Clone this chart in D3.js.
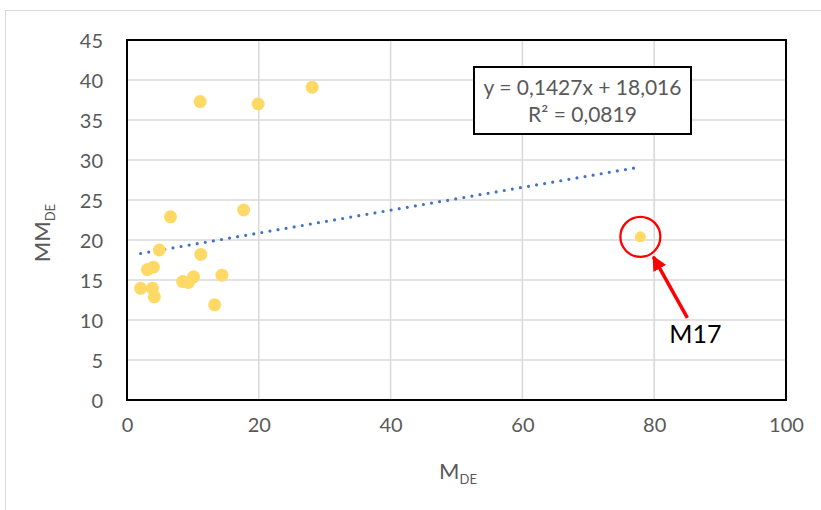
<!DOCTYPE html>
<html><head><meta charset="utf-8">
<script src="https://cdn.jsdelivr.net/npm/d3@7"></script>
<style>body{margin:0;background:#fff;} svg{display:block;font-family:Lato, "Open Sans", sans-serif;}</style>
</head><body><svg id="c" width="821" height="510"></svg>
<script>
// Data
const xValues = [2.07, 3.85, 4.15, 3.1, 4.0, 4.9, 11.2, 8.45, 9.3, 10.1, 14.4, 13.3, 6.6, 17.7, 11.1, 19.9, 28.1, 77.9];
const yValues = [13.96, 13.96, 12.9, 16.3, 16.6, 18.75, 18.2, 14.8, 14.7, 15.4, 15.6, 11.9, 22.9, 23.75, 37.3, 37.0, 39.1, 20.4];
const pointLabels = ["", "", "", "", "", "", "", "", "", "", "", "", "", "", "", "", "", "M17"];
const xTicks = [0, 20, 40, 60, 80, 100];
const yTicks = [0, 5, 10, 15, 20, 25, 30, 35, 40, 45];
const trendCoef = [0.1427, 18.016]; // slope, intercept
const eqLines = ["y = 0,1427x + 18,016", "R² = 0,0819"];
const annotLabel = "M17";

const svg = d3.select("#c");
const m = {l:127, t:40, r:786, b:400};
const x = d3.scaleLinear().domain([0,100]).range([m.l, m.r]);
const y = d3.scaleLinear().domain([0,45]).range([m.b, m.t]);

// outer chart border
svg.append("rect").attr("x",5.5).attr("y",10.5).attr("width",830).attr("height",520)
  .attr("fill","none").attr("stroke","#D9D9D9").attr("stroke-width",1);

// gridlines
svg.append("g").selectAll("line").data(yTicks.slice(1,-1)).join("line")
  .attr("x1",m.l).attr("x2",m.r).attr("y1",d=>y(d)).attr("y2",d=>y(d))
  .attr("stroke","#D9D9D9").attr("stroke-width",1.5);
svg.append("g").selectAll("line").data(xTicks.slice(1,-1)).join("line")
  .attr("y1",m.t).attr("y2",m.b).attr("x1",d=>x(d)).attr("x2",d=>x(d))
  .attr("stroke","#D9D9D9").attr("stroke-width",1.5);

// axes tick labels via d3 axes
const xa = svg.append("g").attr("transform",`translate(0,${m.b})`)
  .call(d3.axisBottom(x).tickValues(xTicks).tickSize(0).tickPadding(18).tickFormat(d3.format("d")));
const ya = svg.append("g").attr("transform",`translate(${m.l},0)`)
  .call(d3.axisLeft(y).tickValues(yTicks).tickSize(0).tickPadding(24).tickFormat(d3.format("d")));
[xa,ya].forEach(a=>{a.select(".domain").remove();
  a.selectAll("text").attr("font-family","Lato, sans-serif").attr("font-size",20).attr("fill","#595959");});
ya.selectAll("text").attr("dy","0.36em");

// plot frame
svg.append("rect").attr("x",m.l).attr("y",m.t).attr("width",m.r-m.l).attr("height",m.b-m.t)
  .attr("fill","none").attr("stroke","#000").attr("stroke-width",2);

// trendline
const xmin = d3.min(xValues), xmax = d3.max(xValues);
svg.append("line")
  .attr("x1",x(xmin)).attr("y1",y(trendCoef[0]*xmin+trendCoef[1]))
  .attr("x2",x(xmax)).attr("y2",y(trendCoef[0]*xmax+trendCoef[1]))
  .attr("stroke","#4472C4").attr("stroke-width",3.2).attr("stroke-linecap","round")
  .attr("stroke-dasharray","0 8.2");

// points
const pts = xValues.map((v,i)=>({x:v,y:yValues[i],label:pointLabels[i]}));
svg.append("g").selectAll("circle").data(pts).join("circle")
  .attr("cx",d=>x(d.x)).attr("cy",d=>y(d.y)).attr("r",d=>d.label?5.5:6.5)
  .attr("fill","#FFD966");

// equation box
const bx = 474, by = 67;
svg.append("rect").attr("x",bx).attr("y",by).attr("width",217).attr("height",67)
  .attr("fill","#fff").attr("stroke","#000").attr("stroke-width",2);
svg.append("g").selectAll("text").data(eqLines).join("text")
  .attr("x",bx+108.5).attr("y",(d,i)=>by+28+i*27).attr("text-anchor","middle")
  .attr("font-size",21).attr("fill","#595959").text(d=>d);

// annotation for M17
const p = pts.find(d=>d.label===annotLabel);
const px = x(p.x), py = y(p.y);
svg.append("circle").attr("cx",px).attr("cy",py).attr("r",20)
  .attr("fill","none").attr("stroke","#FF0000").attr("stroke-width",2.3);
svg.append("defs").append("marker").attr("id","ah").attr("viewBox","0 0 10 10")
  .attr("refX",9).attr("refY",5).attr("markerWidth",4.2).attr("markerHeight",4.2)
  .attr("orient","auto").attr("markerUnits","strokeWidth")
  .append("path").attr("d","M0,0L10,5L0,10z").attr("fill","#FF0000");
svg.append("line").attr("x1",px+47).attr("y1",py+81).attr("x2",px+13).attr("y2",py+20)
  .attr("stroke","#FF0000").attr("stroke-width",3.5).attr("marker-end","url(#ah)");
svg.append("text").attr("x",px+29).attr("y",py+106).attr("font-size",25).attr("fill","#000").text(annotLabel);

// axis titles
const xt = svg.append("text").attr("x",458).attr("y",479).attr("text-anchor","middle")
  .attr("font-size",22).attr("fill","#595959");
xt.append("tspan").text("M");
xt.append("tspan").attr("font-size",13).attr("dy",5).text("DE");
const yt = svg.append("text").attr("transform","translate(50,233) rotate(-90)").attr("text-anchor","middle")
  .attr("font-size",22).attr("fill","#595959");
yt.append("tspan").text("MM");
yt.append("tspan").attr("font-size",13).attr("dy",5).text("DE");
</script></body></html>
